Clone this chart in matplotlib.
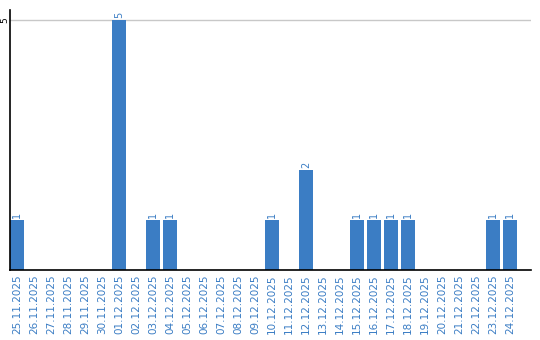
import matplotlib
matplotlib.use('Agg')
import matplotlib.pyplot as plt
import numpy as np

dates = ['25.11.2025', '26.11.2025', '27.11.2025', '28.11.2025', '29.11.2025',
         '30.11.2025', '01.12.2025', '02.12.2025', '03.12.2025', '04.12.2025',
         '05.12.2025', '06.12.2025', '07.12.2025', '08.12.2025', '09.12.2025',
         '10.12.2025', '11.12.2025', '12.12.2025', '13.12.2025', '14.12.2025',
         '15.12.2025', '16.12.2025', '17.12.2025', '18.12.2025', '19.12.2025',
         '20.12.2025', '21.12.2025', '22.12.2025', '23.12.2025', '24.12.2025']
counts = [1, 0, 0, 0, 0, 0, 5, 0, 1, 1,
          0, 0, 0, 0, 0, 1, 0, 2, 0, 0,
          1, 1, 1, 1, 0, 0, 0, 0, 1, 1]

blue = '#3b7dc4'

fig = plt.figure(figsize=(5.4, 3.4), dpi=100)
ax = fig.add_axes([10/540, 70/340, 521/540, 260/340])

x = np.arange(len(dates))
w = 14/17
ax.bar(x, counts, width=w, color=blue, zorder=2)
for xi, c in zip(x, counts):
    if c > 0:
        ax.text(xi, c + 0.04, str(c), rotation=90, ha='center', va='bottom',
                color=blue, fontsize=7)

ax.set_xlim(-w/2, 30.24)
ax.set_ylim(0, 5.2)
ax.set_yticks([5])
ax.set_yticklabels(['5'], rotation=90, va='center', fontsize=6.5)
ax.axhline(5, color='#c8c8c8', lw=1, zorder=1)
ax.set_xticks(x)
ax.set_xticklabels(dates, rotation=90, color=blue, fontsize=7.5)
ax.tick_params(length=0, pad=3)
ax.tick_params(axis='y', pad=0.5)
ax.spines['top'].set_visible(False)
ax.spines['right'].set_visible(False)
ax.spines['left'].set_linewidth(1.2)
ax.spines['bottom'].set_linewidth(1.2)

fig.savefig('out.png', dpi=100)
